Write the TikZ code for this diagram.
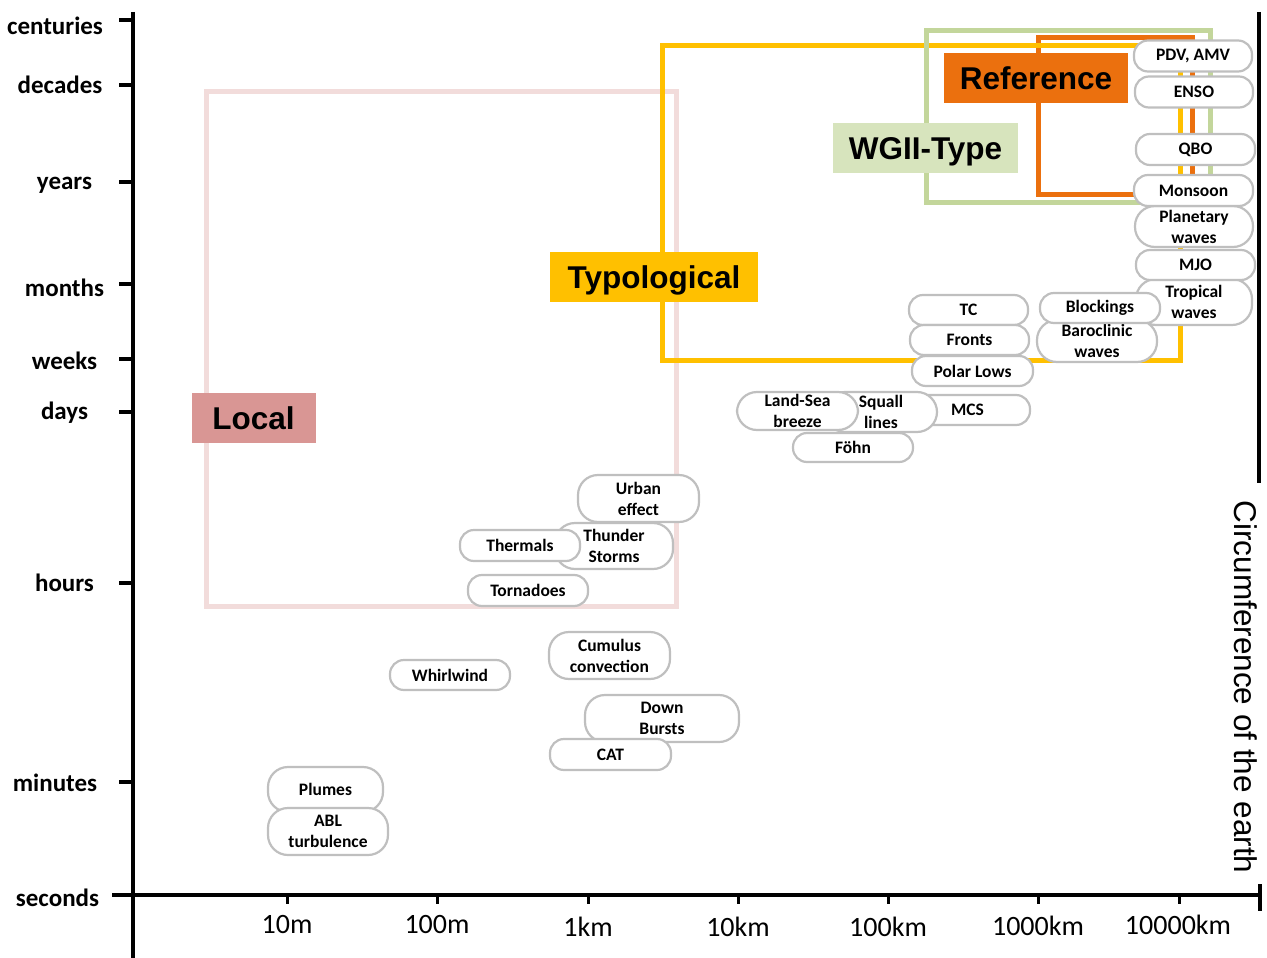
\documentclass[tikz,border=0pt]{standalone}
\usepackage{fontspec}
\setmainfont{Carlito}
\newfontfamily\arialf{Liberation Sans}
\definecolor{localline}{HTML}{F2DCDB}
\definecolor{localfill}{HTML}{D99694}
\definecolor{typo}{HTML}{FFC000}
\definecolor{wgline}{HTML}{C3D69B}
\definecolor{wgfill}{HTML}{D7E4BD}
\definecolor{refc}{HTML}{EB700E}
\definecolor{ovalgray}{HTML}{BFBFBF}
\tikzset{
  oval/.style={draw=ovalgray, line width=2.2pt, fill=white, rounded corners=14pt, inner sep=0pt, align=center, font=\bfseries\fontsize{17.5}{21}\selectfont},
  ovalii/.style={oval, rounded corners=20pt},
  bigbox/.style={line width=5pt},
  biglabel/.style={inner sep=0pt, text height=23pt, text depth=0pt, font=\arialf\bfseries\fontsize{31.5}{34}\selectfont},
  ylab/.style={font=\bfseries\fontsize{25}{28}\selectfont, inner sep=0pt},
  xlab/.style={font=\fontsize{28}{30}\selectfont, inner sep=0pt},
  axis/.style={line width=3.5pt},
  tick/.style={line width=3.5pt}
}
\begin{document}
\begin{tikzpicture}[x=1pt,y=-1pt]
\useasboundingbox (0,0) rectangle (1267,958);
% category rectangles
\draw[bigbox, localline] (206,92) rectangle (676,606);
\draw[bigbox, refc] (1038,38) rectangle (1192,194);
\draw[bigbox, typo] (662,46) rectangle (1180,360);
\draw[bigbox, wgline] (926,31) rectangle (1210,202);
% category labels
\node[biglabel, fill=localfill, minimum width=124, minimum height=50] (local) at (253.5,418) {Local};
\node[biglabel, fill=typo, minimum width=208, minimum height=50] (typo) at (654,277) {Typological};
\node[biglabel, fill=wgfill, minimum width=185, minimum height=50] (wg) at (925.5,148) {WGII-Type};
\node[biglabel, fill=refc, minimum width=184, minimum height=50] (ref) at (1036,78) {Reference};
% axes
\coordinate (ytop) at (133,12);
\coordinate (ybot) at (133,958);
\coordinate (xl) at (112,895);
\coordinate (xr) at (1261,895);
\draw[axis] (ytop) -- (ybot);
\draw[axis] (xl) -- (xr);
\coordinate (rt1) at (1259,12);
\coordinate (rt2) at (1259,483);
\draw[line width=4pt] (rt1) -- (rt2);
\coordinate (re1) at (1260,884);
\coordinate (re2) at (1260,911);
\draw[line width=4pt] (re1) -- (re2);
% y ticks
\foreach \yy in {20,85,182,284,359,412,583,782}{
  \draw[tick] (119,\yy) -- (133,\yy);
}
% x ticks
\foreach \xx in {287,437,588,738,888,1038,1179}{
  \draw[line width=3pt] (\xx,895) -- (\xx,904);
}
% y labels
\node[ylab] (lcent) at (55,26) {centuries};
\node[ylab] (ldec) at (60,85) {decades};
\node[ylab] (lyear) at (64.5,185) {years};
\node[ylab] (lmon) at (64.5,288) {months};
\node[ylab] (lweek) at (64.5,361) {weeks};
\node[ylab] (lday) at (64.5,413) {days};
\node[ylab] (lhour) at (64.5,583) {hours};
\node[ylab] (lmin) at (55,783) {minutes};
\node[ylab] (lsec) at (57.5,898) {seconds};
% x labels
\node[xlab] (x1) at (287,925) {10m};
\node[xlab] (x2) at (437,925) {100m};
\node[xlab] (x3) at (588,927) {1km};
\node[xlab] (x4) at (738,927) {10km};
\node[xlab] (x5) at (888,927) {100km};
\node[xlab] (x6) at (1038,926) {1000km};
\node[xlab] (x7) at (1178,925) {10000km};
% rotated label
\node[rotate=-90, inner sep=0pt, font=\arialf\fontsize{31.5}{34}\selectfont] (circ) at (1246,687) {Circumference of the earth};
% phenomena
\node[oval, minimum width=118, minimum height=31] (pdv) at (1193,56) {PDV, AMV};
\node[oval, minimum width=118, minimum height=31] (enso) at (1194,92) {ENSO};
\node[oval, minimum width=119, minimum height=31] (qbo) at (1195.5,149.5) {QBO};
\node[ovalii, minimum width=116, minimum height=46] (trop) at (1194,302) {Tropical\\waves};
\node[oval, minimum width=119, minimum height=30] (mjo) at (1195.5,265) {MJO};
\node[ovalii, minimum width=118, minimum height=41] (plan) at (1194,226.5) {Planetary\\waves};
\node[oval, minimum width=119, minimum height=31] (mons) at (1193.5,190.5) {Monsoon};
\node[oval, minimum width=119, minimum height=30] (tc) at (968.5,310) {TC};
\node[oval, minimum width=119, minimum height=30] (fronts) at (969.5,340) {Fronts};
\node[oval, minimum width=121, minimum height=30] (polar) at (972.5,371) {Polar Lows};
\node[ovalii, minimum width=120, minimum height=42] (baro) at (1097,341) {Baroclinic\\waves};
\node[oval, minimum width=120, minimum height=30] (block) at (1100,308) {Blockings};
\node[oval, minimum width=125, minimum height=30] (mcs) at (967.5,410) {MCS};
\node[ovalii, minimum width=112, minimum height=40] (squall) at (881,412) {Squall\\lines};
\node[ovalii, minimum width=121, minimum height=38] (landsea) at (797.5,411) {Land-Sea\\breeze};
\node[oval, minimum width=120, minimum height=29] (fohn) at (853,447.5) {Föhn};
\node[ovalii, minimum width=121, minimum height=47] (urban) at (638.5,498.5) {Urban\\effect};
\node[ovalii, minimum width=118, minimum height=46] (thunder) at (614,546) {Thunder\\Storms};
\node[oval, minimum width=120, minimum height=31] (thermals) at (520,545.5) {Thermals};
\node[oval, minimum width=120, minimum height=31] (torn) at (528,590.5) {Tornadoes};
\node[ovalii, minimum width=121, minimum height=47] (cumulus) at (609.5,655.5) {Cumulus\\convection};
\node[oval, minimum width=120, minimum height=30] (whirl) at (450,675) {Whirlwind};
\node[ovalii, minimum width=154, minimum height=47] (down) at (662,718.5) {Down\\Bursts};
\node[oval, minimum width=121, minimum height=31] (cat) at (610.5,754.5) {CAT};
\node[ovalii, minimum width=115, minimum height=45] (plumes) at (325.5,789.5) {Plumes};
\node[ovalii, minimum width=120, minimum height=47] (abl) at (328,831.5) {ABL\\turbulence};
\end{tikzpicture}
\end{document}
